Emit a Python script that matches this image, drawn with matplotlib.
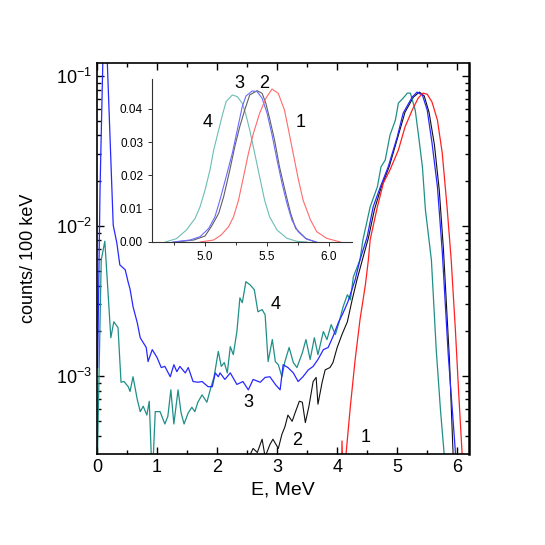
import numpy as np
import matplotlib
matplotlib.use("Agg")
import matplotlib.pyplot as plt
from matplotlib.ticker import MultipleLocator

plt.rcParams['font.family'] = ['Liberation Sans', 'DejaVu Sans']
plt.rcParams['mathtext.fontset'] = 'custom'
plt.rcParams['mathtext.rm'] = 'Liberation Sans'
plt.rcParams['mathtext.it'] = 'Liberation Sans'

# --- espectros principales (E en MeV, cuentas / 100 keV) ---
e1 = [4.07, 4.08, 4.10, 4.13, 4.15, 4.22, 4.30, 4.38, 4.47, 4.52, 4.55, 4.67, 4.77, 4.88,
      5.02, 5.13, 5.25, 5.35, 5.43, 5.50, 5.58, 5.67, 5.75, 5.83, 5.90, 5.97, 6.03, 6.08, 6.10]
c1 = [1.5e-4, 3.7e-4, 2.0e-4, 1.6e-4, 3.1e-4, 6.3e-4, 1.29e-3, 2.37e-3, 4.05e-3, 5.94e-3,
      8.1e-3, 1.34e-2, 1.93e-2, 2.36e-2, 3.2e-2, 4.55e-2, 5.9e-2, 7.09e-2, 7.65e-2, 7.52e-2,
      6.67e-2, 5.06e-2, 3.06e-2, 1.34e-2, 5.9e-3, 2.0e-3, 7.0e-4, 3.1e-4, 1.5e-4]

e2 = [2.55, 2.60, 2.67, 2.75, 2.80, 2.88, 2.93, 3.02, 3.08, 3.13, 3.18, 3.25, 3.30, 3.37,
      3.42, 3.47, 3.53, 3.60, 3.65, 3.68, 3.75, 3.80, 3.88, 3.93, 4.00, 4.08, 4.17, 4.25,
      4.33, 4.42, 4.52, 4.62, 4.73, 4.87, 5.02, 5.13, 5.27, 5.37, 5.45, 5.53, 5.62, 5.70,
      5.77, 5.87, 5.93, 5.97]
c2 = [3.0e-4, 3.3e-4, 3.1e-4, 3.8e-4, 2.9e-4, 3.5e-4, 3.8e-4, 3.3e-4, 4.1e-4, 4.6e-4,
      5.5e-4, 5.0e-4, 5.7e-4, 6.8e-4, 6.7e-4, 4.9e-4, 6.3e-4, 9.2e-4, 9.8e-4, 6.5e-4,
      9.1e-4, 1.10e-3, 1.14e-3, 1.23e-3, 1.55e-3, 1.89e-3, 2.30e-3, 3.22e-3, 4.38e-3,
      5.94e-3, 8.3e-3, 1.28e-2, 1.79e-2, 2.5e-2, 4.02e-2, 5.71e-2, 7.2e-2, 7.77e-2, 7.33e-2,
      5.71e-2, 3.46e-2, 1.74e-2, 7.0e-3, 1.29e-3, 3.1e-4, 1.6e-4]

e3 = [0.01, 0.05, 0.10, 0.13, 0.17, 0.27, 0.33, 0.38, 0.47, 0.52, 0.55, 0.60, 0.67, 0.72,
      0.77, 0.82, 0.85, 0.92, 1.00, 1.07, 1.13, 1.22, 1.28, 1.33, 1.38, 1.47, 1.52, 1.60,
      1.68, 1.75, 1.85, 1.92, 1.97, 2.02, 2.05, 2.13, 2.22, 2.33, 2.43, 2.52, 2.60, 2.72,
      2.80, 2.88, 2.97, 3.05, 3.10, 3.18, 3.27, 3.35, 3.43, 3.52, 3.60, 3.68, 3.77, 3.85,
      3.93, 4.02, 4.10, 4.18, 4.30, 4.38, 4.50, 4.60, 4.72, 4.85, 5.00, 5.10, 5.25, 5.33,
      5.42, 5.50, 5.58, 5.67, 5.75, 5.85, 5.97, 6.00]
c3 = [1.14e-3, 1.73e-2, 1.4e-1, 2.0e-1, 1.27e-1, 1.01e-2, 7.7e-3, 5.5e-3, 5.1e-3, 4.2e-3,
      3.8e-3, 2.9e-3, 2.27e-3, 1.80e-3, 1.67e-3, 1.55e-3, 1.25e-3, 1.50e-3, 1.33e-3,
      1.14e-3, 1.16e-3, 9.9e-4, 1.19e-3, 1.07e-3, 1.16e-3, 1.05e-3, 1.14e-3, 9.2e-4,
      9.1e-4, 9.2e-4, 8.5e-4, 8.5e-4, 1.05e-3, 9.9e-4, 1.05e-3, 9.5e-4, 1.05e-3, 8.8e-4,
      9.2e-4, 8.1e-4, 9.5e-4, 9.1e-4, 9.8e-4, 9.9e-4, 8.8e-4, 8.1e-4, 1.19e-3, 1.14e-3,
      1.05e-3, 9.2e-4, 9.9e-4, 1.10e-3, 1.16e-3, 1.29e-3, 1.50e-3, 1.55e-3, 1.83e-3,
      2.27e-3, 2.64e-3, 3.13e-3, 4.38e-3, 5.94e-3, 8.45e-3, 1.34e-2, 1.82e-2, 2.47e-2,
      3.9e-2, 5.64e-2, 7.2e-2, 7.77e-2, 7.42e-2, 5.9e-2, 3.56e-2, 1.82e-2, 6.8e-3, 1.39e-3,
      3.1e-4, 1.5e-4]

e4 = [0.00, 0.07, 0.13, 0.18, 0.23, 0.28, 0.35, 0.40, 0.45, 0.52, 0.55, 0.60, 0.67, 0.72,
      0.77, 0.83, 0.87, 0.92, 0.97, 1.05, 1.13, 1.18, 1.23, 1.28, 1.35, 1.40, 1.45, 1.52,
      1.58, 1.63, 1.68, 1.75, 1.83, 1.90, 1.95, 2.02, 2.07, 2.12, 2.17, 2.22, 2.27, 2.33,
      2.38, 2.42, 2.48, 2.55, 2.62, 2.68, 2.75, 2.80, 2.85, 2.92, 2.97, 3.02, 3.08, 3.13,
      3.20, 3.27, 3.33, 3.42, 3.48, 3.55, 3.62, 3.68, 3.77, 3.83, 3.90, 3.97, 4.03, 4.10,
      4.17, 4.22, 4.27, 4.38, 4.43, 4.55, 4.67, 4.73, 4.80, 4.88, 4.97, 5.02, 5.10, 5.17,
      5.22, 5.30, 5.35, 5.42, 5.47, 5.57, 5.65, 5.72, 5.78, 5.80]
c4 = [2.0e-4, 5.9e-3, 7.9e-3, 3.8e-3, 1.8e-3, 2.3e-3, 2.1e-3, 9.1e-4, 9.2e-4, 8.5e-4,
      7.9e-4, 9.9e-4, 7.0e-4, 5.8e-4, 6.3e-4, 5.5e-4, 6.8e-4, 2.0e-4, 5.8e-4, 5.8e-4,
      4.8e-4, 5.4e-4, 8.1e-4, 4.8e-4, 8.1e-4, 5.7e-4, 4.8e-4, 5.7e-4, 6.2e-4, 5.8e-4,
      6.7e-4, 7.5e-4, 6.7e-4, 8.5e-4, 9.9e-4, 1.46e-3, 1.16e-3, 1.23e-3, 1.05e-3, 1.57e-3,
      1.39e-3, 1.98e-3, 3.32e-3, 3.08e-3, 4.25e-3, 4.05e-3, 3.76e-3, 2.68e-3, 2.77e-3,
      2.56e-3, 1.25e-3, 1.75e-3, 1.25e-3, 1.19e-3, 9.9e-4, 1.25e-3, 1.55e-3, 1.23e-3,
      1.14e-3, 1.43e-3, 1.75e-3, 1.29e-3, 1.80e-3, 1.39e-3, 1.98e-3, 1.75e-3, 2.20e-3,
      1.89e-3, 2.27e-3, 2.90e-3, 3.48e-3, 3.22e-3, 4.58e-3, 5.94e-3, 8.1e-3, 1.34e-2,
      1.82e-2, 2.47e-2, 2.74e-2, 4.02e-2, 5.06e-2, 6.57e-2, 7.09e-2, 7.65e-2, 7.65e-2,
      5.9e-2, 4.15e-2, 2.47e-2, 1.28e-2, 5.9e-3, 1.5e-3, 6.0e-4, 3.1e-4, 1.5e-4]

# --- inserto (escala lineal) ---
ie1 = [4.96, 5.07, 5.13, 5.19, 5.23, 5.27, 5.31, 5.35, 5.39, 5.44, 5.49, 5.54, 5.59, 5.64,
       5.67, 5.71, 5.75, 5.79, 5.85, 5.90, 5.98, 6.09]
iy1 = [0.0, 0.0006, 0.0021, 0.0046, 0.0076, 0.0126, 0.0196, 0.0267, 0.0327, 0.0387, 0.0432,
       0.0460, 0.0447, 0.0397, 0.0342, 0.0267, 0.0192, 0.0126, 0.0066, 0.0031, 0.0011, 0.0]

ie2 = [4.77, 4.91, 5.00, 5.05, 5.11, 5.15, 5.20, 5.24, 5.28, 5.32, 5.36, 5.42, 5.46, 5.49,
       5.52, 5.56, 5.60, 5.65, 5.69, 5.73, 5.81, 5.89]
iy2 = [0.0, 0.0006, 0.0018, 0.0046, 0.0086, 0.0136, 0.0217, 0.0287, 0.0347, 0.0397, 0.0442,
       0.0455, 0.0447, 0.0417, 0.0372, 0.0307, 0.0226, 0.0146, 0.0086, 0.0041, 0.0011, 0.0]

ie3 = [4.74, 4.88, 4.96, 5.03, 5.08, 5.12, 5.17, 5.22, 5.26, 5.30, 5.33, 5.38, 5.42, 5.46,
       5.50, 5.54, 5.58, 5.62, 5.66, 5.70, 5.75, 5.82, 5.90]
iy3 = [0.0, 0.0006, 0.0016, 0.0041, 0.0076, 0.0126, 0.0196, 0.0267, 0.0337, 0.0407, 0.0439,
       0.0454, 0.0452, 0.0432, 0.0387, 0.0322, 0.0247, 0.0177, 0.0116, 0.0066, 0.0031,
       0.0008, 0.0]

ie4 = [4.68, 4.77, 4.85, 4.92, 4.96, 5.00, 5.04, 5.07, 5.11, 5.14, 5.17, 5.22, 5.26, 5.30,
       5.33, 5.36, 5.40, 5.44, 5.48, 5.52, 5.58, 5.66, 5.74, 5.82]
iy4 = [0.0, 0.001, 0.0036, 0.0071, 0.0106, 0.0156, 0.0217, 0.0277, 0.0337, 0.0382, 0.0422,
       0.0442, 0.0437, 0.0417, 0.0382, 0.0337, 0.0267, 0.0196, 0.0126, 0.0076, 0.0036,
       0.0011, 0.0002, 0.0]

fig = plt.figure(figsize=(5.45, 5.45), dpi=100)
ax = fig.add_axes([0.178, 0.167, 0.683, 0.717])

ax.plot(e2, c2, color='#101010', lw=0.8)
ax.plot(e4, c4, color='#1f8f88', lw=0.9)
ax.plot(e3, c3, color='#2828ff', lw=0.9)
ax.plot(e1, c1, color='#ff2020', lw=0.9)

ax.set_yscale('log')
ax.set_xlim(0, 6.2)
ax.set_ylim(3.03e-4, 0.121)
ax.xaxis.set_major_locator(MultipleLocator(1))
ax.xaxis.set_minor_locator(MultipleLocator(0.5))
ax.tick_params(which='both', direction='in', top=True, right=True, labelsize=13, width=1)
ax.tick_params(which='major', length=5)
ax.tick_params(which='minor', length=3)
for s in ax.spines.values():
    s.set_linewidth(1.2)
ax.spines['right'].set_linewidth(1.8)

ax.set_xlabel('E, MeV', fontsize=14)
ax.set_ylabel('counts/ 100 keV', fontsize=13,
              family=['Liberation Sans Narrow', 'Liberation Sans', 'DejaVu Sans'])
ax.yaxis.set_label_coords(-0.16, 0.5)

ax.text(2.97, 3.0e-3, '4', fontsize=13, ha='center', va='center')
ax.text(2.52, 6.7e-4, '3', fontsize=13, ha='center', va='center')
ax.text(3.33, 3.7e-4, '2', fontsize=13, ha='center', va='center')
ax.text(4.47, 3.9e-4, '1', fontsize=13, ha='center', va='center')

# inserto
ins = fig.add_axes([0.279, 0.556, 0.367, 0.299])
ins.plot(ie4, iy4, color='#6cbdb5', lw=0.8)
ins.plot(ie2, iy2, color='#606060', lw=0.8)
ins.plot(ie3, iy3, color='#6a6aff', lw=0.8)
ins.plot(ie1, iy1, color='#ff6a6a', lw=0.8)
ins.set_xlim(4.573, 6.185)
ins.set_ylim(0, 0.049)
ins.patch.set_alpha(0)
ins.spines['top'].set_visible(False)
ins.spines['right'].set_visible(False)
for s in ('left', 'bottom'):
    ins.spines[s].set_color('#303030')
    ins.spines[s].set_linewidth(0.8)
ins.xaxis.set_major_locator(MultipleLocator(0.5))
ins.xaxis.set_minor_locator(MultipleLocator(0.25))
ins.yaxis.set_major_locator(MultipleLocator(0.01))
ins.yaxis.set_major_formatter(matplotlib.ticker.FormatStrFormatter('%.2f'))
ins.xaxis.set_major_formatter(matplotlib.ticker.FormatStrFormatter('%.1f'))
ins.tick_params(which='both', direction='out', labelsize=8.5, width=0.7, color='#303030')
ins.tick_params(which='major', length=3)
ins.tick_params(which='minor', length=2)

ins.text(5.28, 0.0478, '3', fontsize=13, ha='center', va='center')
ins.text(5.48, 0.0478, '2', fontsize=13, ha='center', va='center')
ins.text(5.02, 0.0358, '4', fontsize=13, ha='center', va='center')
ins.text(5.77, 0.0358, '1', fontsize=13, ha='center', va='center')

fig.savefig('out.png', dpi=100)
